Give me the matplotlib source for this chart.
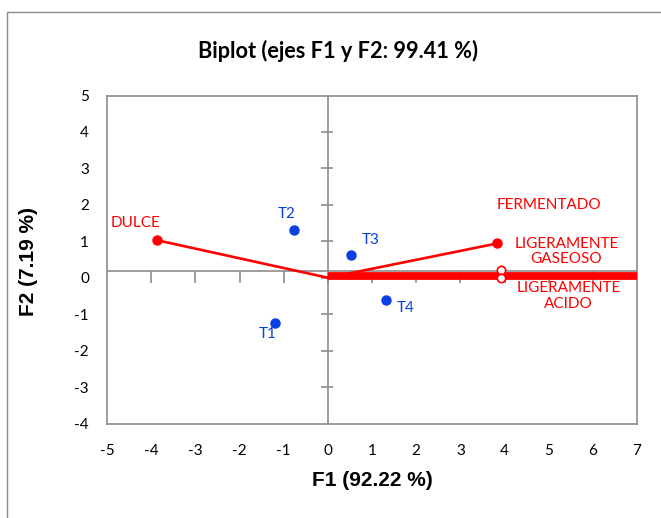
import matplotlib
matplotlib.use("Agg")
import matplotlib.pyplot as plt
from matplotlib.patches import Rectangle

# ---- data ----
obs_names = ["T1", "T2", "T3", "T4"]
obs_x = [-1.19, -0.76, 0.52, 1.31]
obs_y = [-1.25, 1.31, 0.62, -0.61]

var_names = ["DULCE", "LIGERAMENTE\nGASEOSO"]
var_x = [-3.87, 3.83]
var_y = [1.03, 0.94]

hollow_x = [3.92, 3.92]
hollow_y = [0.21, 0.0]

thick_x = [0.0, 7.5]
thick_y = [0.06, 0.06]

x_ticks = [-5, -4, -3, -2, -1, 0, 1, 2, 3, 4, 5, 6, 7]
y_ticks = [-4, -3, -2, -1, 0, 1, 2, 3, 4, 5]
haxis_y = 0.18

RED = "#FF0000"
BLUE = "#0A3FE0"
GRAY = "#8C8C8C"
TXT = "Lato"

fig = plt.figure(figsize=(6.61, 5.18), dpi=100)
ax = fig.add_axes([107/661, 1-423.5/518, 530/661, 328/518])

# figure border
fig.patches.append(Rectangle((7/661, -0.1), 1.2, 1-12/518+0.1, transform=fig.transFigure,
                             fill=False, edgecolor=GRAY, lw=1.0))

ax.set_xlim(-5, 7)
ax.set_ylim(-4, 5)
for s in ax.spines.values():
    s.set_color(GRAY)
    s.set_linewidth(1.2)

# zero axes
ax.axhline(haxis_y, color=GRAY, lw=1.2, zorder=1)
ax.axvline(0, color=GRAY, lw=1.2, zorder=1)
ax.vlines([t for t in x_ticks if -5 < t < 7], haxis_y - 0.33, haxis_y, color=GRAY, lw=1.2, zorder=1)
ax.hlines([t for t in y_ticks if -4 < t < 5], -0.15, 0.11, color=GRAY, lw=1.2, zorder=1)

ax.set_xticks(x_ticks)
ax.set_yticks(y_ticks)
ax.set_xticklabels([str(t) for t in x_ticks], fontfamily=TXT, fontsize=11)
ax.set_yticklabels([str(t) for t in y_ticks], fontfamily=TXT, fontsize=11)
ax.tick_params(axis="x", length=0, pad=15)
ax.tick_params(axis="y", length=0, pad=13)

# vectors
for vx, vy in zip(var_x, var_y):
    ax.plot([0, vx], [0, vy], color=RED, lw=1.9, zorder=3)
ax.plot(var_x, var_y, "o", color=RED, ms=6.5, zorder=4)
ax.plot(thick_x, thick_y, color=RED, lw=5.6, solid_capstyle="butt", zorder=3, clip_on=True)
ax.plot(hollow_x, hollow_y, "o", mfc="white", mec=RED, mew=1.2, ms=6, zorder=4)

# observations
ax.plot(obs_x, obs_y, "o", color=BLUE, ms=6.5, zorder=5)

lbl_kw = dict(fontfamily=TXT, fontsize=11)
ax.text(-4.35, 1.5, "DULCE", color=RED, ha="center", va="center", **lbl_kw)
ax.text(5.0, 1.99, "FERMENTADO", color=RED, ha="center", va="center", **lbl_kw)
ax.text(5.4, 0.72, "LIGERAMENTE\nGASEOSO", color=RED, ha="center", va="center", linespacing=1.12, **lbl_kw)
ax.text(5.45, -0.5, "LIGERAMENTE\nACIDO", color=RED, ha="center", va="center", linespacing=1.18, **lbl_kw)

ax.text(-1.37, -1.55, "T1", color=BLUE, ha="center", va="center", **lbl_kw)
ax.text(-0.93, 1.74, "T2", color=BLUE, ha="center", va="center", **lbl_kw)
ax.text(0.97, 1.04, "T3", color=BLUE, ha="center", va="center", **lbl_kw)
ax.text(1.77, -0.84, "T4", color=BLUE, ha="center", va="center", **lbl_kw)

fig.text(338/661, 1-51/518, "Biplot (ejes F1 y F2: 99.41 %)", ha="center", va="center",
         fontfamily=TXT, fontweight="bold", fontsize=15.7)
fig.text(372/661, 1-481/518, "F1 (92.22 %)", ha="center", va="center",
         fontfamily="Liberation Sans", fontweight="bold", fontsize=15)
fig.text(28/661, 1-262/518, "F2 (7.19 %)", ha="center", va="center", rotation=90,
         fontfamily="Liberation Sans", fontweight="bold", fontsize=15)

fig.savefig("out.png", dpi=100, facecolor="white")
